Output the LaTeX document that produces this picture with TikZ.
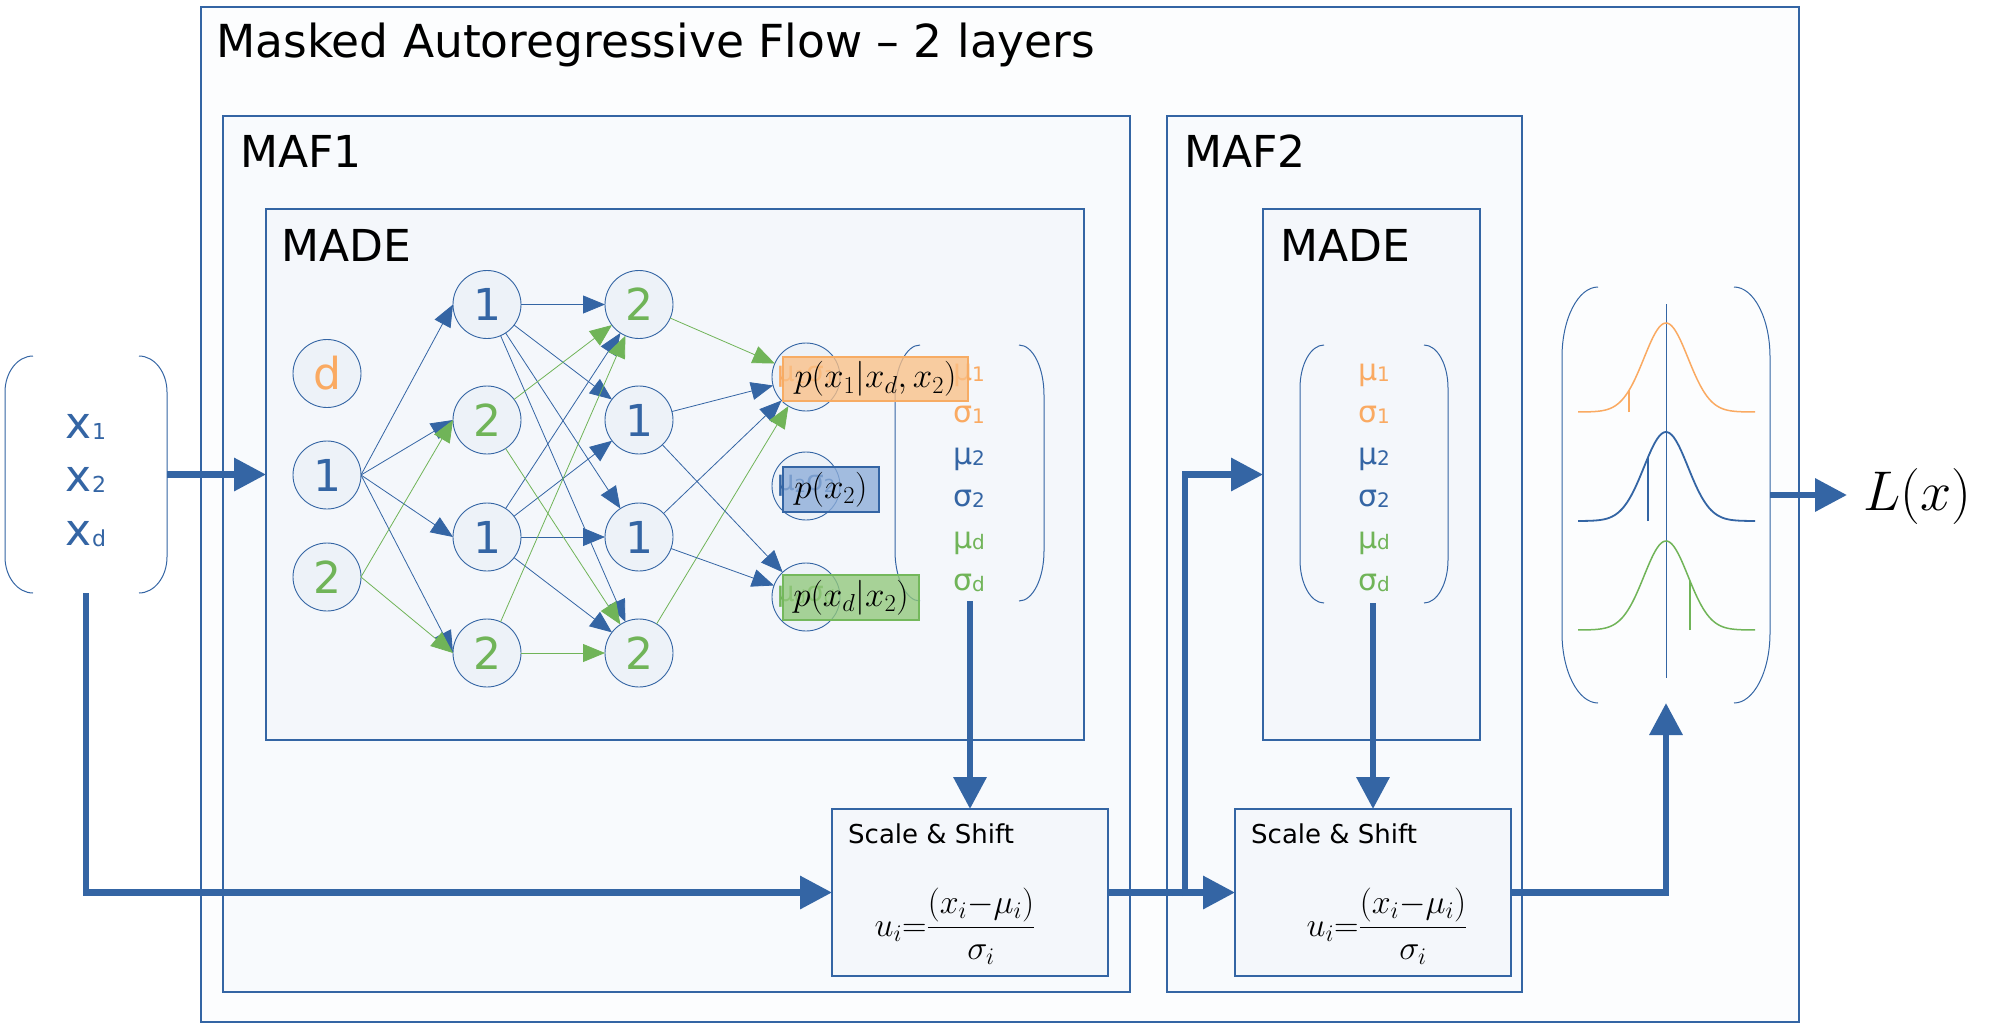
\RequirePackage{fix-cm}
\documentclass[tikz,border=0pt]{standalone}
\usepackage{fontspec}
\newfontfamily\dv{DejaVu Sans}
\usetikzlibrary{arrows.meta}
\definecolor{cblue}{RGB}{52,101,164}
\definecolor{corange}{RGB}{250,170,98}
\definecolor{cgreen}{RGB}{112,180,88}
\definecolor{outerfill}{RGB}{252,253,254}
\definecolor{maffill}{RGB}{248,250,253}
\definecolor{madefill}{RGB}{244,247,251}
\definecolor{cfill}{RGB}{237,242,248}
\definecolor{ofill}{RGB}{250,192,135}
\definecolor{odraw}{RGB}{247,172,100}
\definecolor{bfill}{RGB}{140,172,216}
\definecolor{gfill}{RGB}{146,200,124}
\definecolor{gdraw}{RGB}{116,184,92}
\newcommand{\lowsub}[2]{{\fontsize{#1}{#1}\selectfont\raisebox{-1.5pt}{#2}}}
\newcommand{\parenpair}[6]{%
  \draw[brk] ({#1+#5},#2) .. controls ({#1+0.45*#5},#2) and (#1,{#2+0.45*#6}) .. (#1,{#2+#6}) -- (#1,{#4-#6}) .. controls (#1,{#4-0.45*#6}) and ({#1+0.45*#5},#4) .. ({#1+#5},#4);
  \draw[brk] ({#3-#5},#2) .. controls ({#3-0.45*#5},#2) and (#3,{#2+0.45*#6}) .. (#3,{#2+#6}) -- (#3,{#4-#6}) .. controls (#3,{#4-0.45*#6}) and ({#3-0.45*#5},#4) .. ({#3-#5},#4);
}
\begin{document}
\begin{tikzpicture}[x=1pt,y=-1pt,
  frame/.style={draw=cblue, line width=1.2pt, fill=#1, inner sep=0, outer sep=0},
  region/.style={inner sep=0, outer sep=0},
  ttl/.style={anchor=base west, inner sep=0, font={\dv\fontsize{44}{52}\selectfont}},
  neuron/.style={circle, draw=cblue, line width=0.9pt, fill=cfill, minimum size=68pt, inner sep=0, outer sep=0, font={\dv\fontsize{44}{50}\selectfont}},
  eb/.style={draw=cblue, line width=0.8pt, -{Triangle[length=22pt,width=18pt]}},
  eg/.style={draw=cgreen, line width=0.8pt, -{Triangle[length=22pt,width=18pt]}},
  big/.style={draw=cblue, line width=6.5pt, -{Triangle[length=32pt,width=32pt]}},
  brk/.style={draw=cblue, line width=1pt},
  lst/.style={anchor=base, inner sep=0, font={\dv\fontsize{30}{36}\selectfont}},
  xl/.style={anchor=base, inner sep=0, text=cblue, font={\dv\fontsize{44}{50}\selectfont}},
  ghost/.style={inner sep=0, font={\dv\fontsize{28}{32}\selectfont}},
  pbox/.style={inner sep=0, outer sep=0, line width=1.5pt, fill opacity=0.78, text opacity=1, font=\fontsize{35}{40}\selectfont},
  sst/.style={anchor=base west, inner sep=0, font={\dv\fontsize{26}{30}\selectfont}},
  fml/.style={inner sep=0, font=\fontsize{34}{40}\selectfont}
]
\useasboundingbox (0,0) rectangle (2000,1026);
\fill[white] (0,0) rectangle (2000,1026);

% frames
\node[frame=outerfill, minimum width=1598pt, minimum height=1015pt] (outer) at (1000,514.5) {};
\node[frame=maffill, minimum width=907pt, minimum height=876pt] (maf1) at (676.5,554) {};
\node[frame=maffill, minimum width=355pt, minimum height=876pt] (maf2) at (1344.5,554) {};
\node[frame=madefill, minimum width=818pt, minimum height=531pt] (made1) at (675,474.5) {};
\node[frame=madefill, minimum width=217pt, minimum height=531pt] (made2) at (1371.5,474.5) {};
\node[frame=madefill, minimum width=276pt, minimum height=167pt] (ss1) at (970,892.5) {};
\node[frame=madefill, minimum width=276pt, minimum height=167pt] (ss2) at (1373,892.5) {};

% titles
\node[ttl, font={\dv\fontsize{45.5}{54}\selectfont}] (title) at (216,57) {Masked Autoregressive Flow – 2 layers};
\node[ttl] (maf1t) at (240,167) {MAF1};
\node[ttl] (maf2t) at (1184,167) {MAF2};
\node[ttl] (made1t) at (281,261) {MADE};
\node[ttl] (made2t) at (1280,261) {MADE};
\node[sst] (sst1) at (848,843) {Scale \& Shift};
\node[sst] (sst2) at (1251,843) {Scale \& Shift};
\node[fml] (f1) at (955,926) {$\displaystyle u_i{=}\frac{(x_i{-}\mu_i)}{\sigma_i}$};
\node[fml] (f2) at (1387,926) {$\displaystyle u_i{=}\frac{(x_i{-}\mu_i)}{\sigma_i}$};

% input bracket
\node[region, minimum width=162pt, minimum height=237pt] (xin) at (86,474.5) {};
\parenpair{5}{356}{167}{593}{28}{36}
\node[xl] (x1) at (86,438) {x\lowsub{22}{1}};
\node[xl] (x2) at (86,491) {x\lowsub{22}{2}};
\node[xl] (xd) at (86,545) {x\lowsub{22}{d}};

% MADE 1 network
\node[neuron, text=corange] (ind) at (327,373.5) {d};
\node[neuron, text=cblue] (in1) at (327,475) {1};
\node[neuron, text=cgreen] (in2) at (327,577) {2};
\node[neuron, text=cblue] (h1a) at (487,304.5) {1};
\node[neuron, text=cgreen] (h1b) at (487,420) {2};
\node[neuron, text=cblue] (h1c) at (487,537) {1};
\node[neuron, text=cgreen] (h1d) at (487,653) {2};
\node[neuron, text=cgreen] (h2a) at (639,304.5) {2};
\node[neuron, text=cblue] (h2b) at (639,420) {1};
\node[neuron, text=cblue] (h2c) at (639,537) {1};
\node[neuron, text=cgreen] (h2d) at (639,653) {2};
\node[neuron] (oa) at (806,377) {};
\node[neuron] (ob) at (806,486) {};
\node[neuron] (oc) at (806,597) {};

\foreach \t in {h1a,h1b,h1c,h1d} \draw[eb] (in1.east) -- (\t.west);
\foreach \t in {h1b,h1d} \draw[eg] (in2.east) -- (\t.west);
\foreach \s in {h1a,h1c} {\foreach \t in {h2a,h2b,h2c,h2d} \draw[eb] (\s) -- (\t);}
\foreach \s in {h1b,h1d} {\foreach \t in {h2a,h2d} \draw[eg] (\s) -- (\t);}
\draw[eg] (h2a) -- (oa);
\draw[eb] (h2b) -- (oa);
\draw[eb] (h2c) -- (oa);
\draw[eg] (h2d) -- (oa);
\draw[eb] (h2b) -- (oc);
\draw[eb] (h2c) -- (oc);

% MAF1 parameter list
\node[region, minimum width=149pt, minimum height=256pt] (list1) at (969.5,473) {};
\parenpair{895}{345}{1044}{601}{25}{50}
\node[lst, text=corange] (l1a) at (969,380) {μ\lowsub{20}{1}};
\node[lst, text=corange] (l1b) at (969,422) {σ\lowsub{20}{1}};
\node[lst, text=cblue] (l1c) at (969,464) {μ\lowsub{20}{2}};
\node[lst, text=cblue] (l1d) at (969,506) {σ\lowsub{20}{2}};
\node[lst, text=cgreen] (l1e) at (969,548) {μ\lowsub{20}{d}};
\node[lst, text=cgreen] (l1f) at (969,590) {σ\lowsub{20}{d}};

% ghosts and probability boxes
\node[ghost, text=corange] (ga) at (oa) {μ\lowsub{18}{1}σ\lowsub{18}{1}};
\node[ghost, text=cblue] (gb) at (ob) {μ\lowsub{18}{2}σ\lowsub{18}{2}};
\node[ghost, text=cgreen] (gc) at (oc) {μ\lowsub{18}{d}σ\lowsub{18}{d}};
\node[pbox, draw=odraw, fill=ofill, minimum width=185pt, minimum height=44pt] (pa) at (875.5,379) {$p(x_1|x_d,x_2)$};
\node[pbox, draw=cblue, fill=bfill, minimum width=96pt, minimum height=45pt] (pb) at (831,489.5) {$p(x_2)$};
\node[pbox, draw=gdraw, fill=gfill, minimum width=136pt, minimum height=45pt] (pc) at (851,597.5) {$p(x_d|x_2)$};

% MAF2 parameter list
\node[region, minimum width=148pt, minimum height=258pt] (list2) at (1374,474) {};
\parenpair{1300}{345}{1448}{603}{24}{43}
\node[lst, text=corange] (l2a) at (1374,380) {μ\lowsub{20}{1}};
\node[lst, text=corange] (l2b) at (1374,422) {σ\lowsub{20}{1}};
\node[lst, text=cblue] (l2c) at (1374,464) {μ\lowsub{20}{2}};
\node[lst, text=cblue] (l2d) at (1374,506) {σ\lowsub{20}{2}};
\node[lst, text=cgreen] (l2e) at (1374,548) {μ\lowsub{20}{d}};
\node[lst, text=cgreen] (l2f) at (1374,590) {σ\lowsub{20}{d}};

% gaussians
\node[region, minimum width=208pt, minimum height=416pt] (gauss) at (1666,495) {};
\parenpair{1562}{287}{1770}{703}{36}{70}
\draw[cblue, line width=0.9pt] (1666,304) -- (1666,678);
\draw[corange, line width=1.5pt] plot[domain=-88:89, samples=90, smooth] ({1666+\x},{412-89*exp(-(\x*\x)/968)});
\draw[cblue, line width=1.8pt] plot[domain=-88:89, samples=90, smooth] ({1666+\x},{521-89*exp(-(\x*\x)/968)});
\draw[cgreen, line width=1.5pt] plot[domain=-88:89, samples=90, smooth] ({1666+\x},{630-89*exp(-(\x*\x)/968)});
\draw[corange, line width=1.5pt] (1629,412) -- (1629,{412-89*exp(-1369/968)});
\draw[cblue, line width=1.5pt] (1648,521) -- (1648,{521-89*exp(-324/968)});
\draw[cgreen, line width=1.5pt] (1690,630) -- (1690,{630-89*exp(-576/968)});

\node[anchor=west, inner xsep=16pt, inner ysep=0, outer sep=0, font=\fontsize{56}{60}\selectfont] (lx) at (1847,496) {$L(x)$};

% thick connectors
\coordinate (split) at (1185,896);
\draw[big] (xin.east) -- (made1.west);
\draw[big] (xin.south) |- (ss1.west);
\draw[big] (ss1.north |- list1.south) -- (ss1.north);
\draw[big] (ss1.east) -- (ss2.west);
\draw[big] (split) |- (made2.west);
\draw[big] (ss2.north |- list2.south) -- (ss2.north);
\draw[big] (ss2.east) -| (gauss.south);
\draw[big] (gauss.east) -- (gauss.east -| lx.west);
\end{tikzpicture}
\end{document}
